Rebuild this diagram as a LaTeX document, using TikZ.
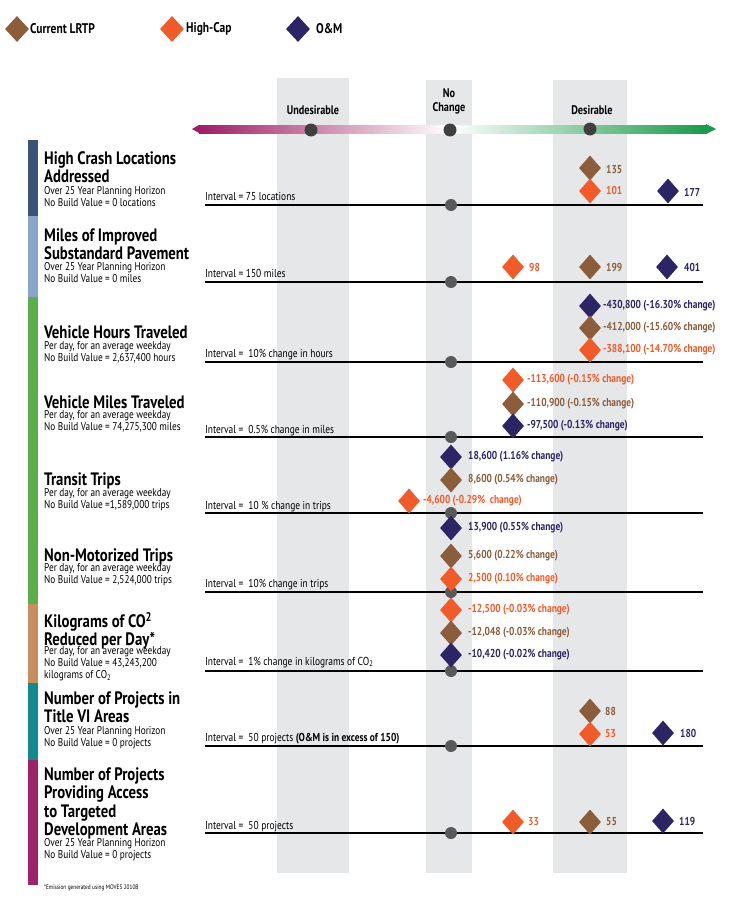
\documentclass[tikz,border=0pt]{standalone}
\usepackage{fontspec}
\setmainfont{PT Sans}[FakeStretch=0.82]
\usetikzlibrary{shapes.geometric}
\definecolor{cbr}{HTML}{8B5D3B}
\definecolor{cor}{HTML}{F15A29}
\definecolor{cnv}{HTML}{2B2566}
\definecolor{cmag}{HTML}{9E1F63}
\definecolor{cgrn}{HTML}{1A9A4A}
\definecolor{colbg}{HTML}{E6E7E8}
\definecolor{bar1}{HTML}{3A5478}
\definecolor{bar2}{HTML}{88A6CC}
\definecolor{bar3}{HTML}{5BAE4A}
\definecolor{bar4}{HTML}{C98E5E}
\definecolor{bar5}{HTML}{138A8E}
\definecolor{bar6}{HTML}{A0226A}
\tikzset{x=1pt,y=-1pt,
 dm/.style={diamond,minimum width=22pt,minimum height=25pt,inner sep=0pt,fill=#1},
 lab/.style={anchor=west,font=\bfseries\fontsize{11.5}{12}\selectfont,text=#1,inner sep=0pt},
 ttl/.style={anchor=north west,align=left,font=\bfseries\fontsize{18}{18.5}\selectfont,inner sep=0pt},
 sub/.style={anchor=north west,align=left,font=\fontsize{11.3}{12}\selectfont,inner sep=0pt},
 intv/.style={anchor=base west,font=\fontsize{11.5}{12}\selectfont,inner sep=0pt},
 zero/.style={circle,fill=black!65,minimum size=12pt,inner sep=0pt},
 rl/.style={line width=1.8pt},
 hd/.style={font=\bfseries\fontsize{12.5}{14}\selectfont,align=center,inner sep=0pt},
 leg/.style={anchor=west,font=\bfseries\fontsize{14}{16}\selectfont,inner sep=0pt}}
\begin{document}
\begin{tikzpicture}
\useasboundingbox (0,0) rectangle (738,907);
% columns
\fill[colbg] (277,78) rectangle (349,873);
\fill[colbg] (426,80) rectangle (472,873);
\fill[colbg] (553,80) rectangle (627,873);
% legend
\node[dm=cbr,minimum width=24pt,minimum height=26pt] (l1) at (17,29) {};
\node[leg] (l1t) at (30,29) {Current LRTP};
\node[dm=cor,minimum width=24pt,minimum height=26pt] (l2) at (172,29) {};
\node[leg] (l2t) at (186,29) {High-Cap};
\node[dm=cnv,minimum width=24pt,minimum height=26pt] (l3) at (298,29) {};
\node[leg] (l3t) at (316,29) {O\&M};
% gradient arrow
\shade[left color=cmag,right color=white] (199,125) rectangle (450,133);
\shade[left color=white,right color=cgrn] (450,125) rectangle (706,133);
\fill[cmag] (199,125) -- (192,129) -- (199,133) -- cycle;
\fill[cgrn] (706,124) -- (716,129) -- (706,134) -- cycle;
\node[circle,fill=black!75,minimum size=13pt,inner sep=0pt] (d1) at (311,130) {};
\node[circle,fill=black!75,minimum size=13pt,inner sep=0pt] (d2) at (450,130) {};
\node[circle,fill=black!75,minimum size=13pt,inner sep=0pt] (d3) at (590,129) {};
\node[hd] (u) at (313,110) {Undesirable};
\node[hd] (nc) at (449,101) {No\\Change};
\node[hd] (ds) at (592,110) {Desirable};
% left bars
\fill[bar1] (28,140) rectangle (38,216);
\fill[bar2] (28,216) rectangle (38,297);
\fill[bar3] (28,297) rectangle (38,604);
\fill[bar4] (28,604) rectangle (38,683);
\fill[bar5] (28,683) rectangle (38,760);
\fill[bar6] (28,760) rectangle (38,885);
% row lines and zero dots
\foreach \y/\n in {205/1,282/2,362/3,437/4,513/5,592/6,671/7,746/8,833/9}{
 \coordinate (a\n) at (205,\y); \coordinate (b\n) at (703,\y);
 \draw[rl] (a\n) -- (b\n);
 \node[zero] (z\n) at (451,\y) {};
}
% titles
\node[ttl] (t1) at (44,151) {High Crash Locations\\Addressed};
\node[sub] (s1) at (44,186) {Over 25 Year Planning Horizon\\No Build Value = 0 locations};
\node[ttl] (t2) at (44,228) {Miles of Improved\\Substandard Pavement};
\node[sub] (s2) at (44,262) {Over 25 Year Planning Horizon\\No Build Value = 0 miles};
\node[ttl] (t3) at (44,325) {Vehicle Hours Traveled};
\node[sub] (s3) at (44,341) {Per day, for an average weekday\\No Build Value = 2,637,400 hours};
\node[ttl] (t4) at (44,395) {Vehicle Miles Traveled};
\node[sub] (s4) at (44,410) {Per day, for an average weekday\\No Build Value = 74,275,300 miles};
\node[ttl] (t5) at (44,472) {Transit Trips};
\node[sub] (s5) at (44,488) {Per day, for an average weekday\\No Build Value =1,589,000 trips};
\node[ttl] (t6) at (44,548) {Non-Motorized Trips};
\node[sub] (s6) at (44,563) {Per day, for an average weekday\\No Build Value = 2,524,000 trips};
\node[ttl] (t7) at (44,612) {Kilograms of CO\textsuperscript{2}\\Reduced per Day*};
\node[sub] (s7) at (44,646) {Per day, for an average weekday\\No Build Value = 43,243,200\\kilograms of CO\textsubscript{2}};
\node[ttl] (t8) at (44,691) {Number of Projects in\\Title VI Areas};
\node[sub] (s8) at (44,726) {Over 25 Year Planning Horizon\\No Build Value = 0 projects};
\node[ttl] (t9) at (44,767) {Number of Projects\\Providing Access\\to Targeted\\Development Areas};
\node[sub] (s9) at (44,838) {Over 25 Year Planning Horizon\\No Build Value = 0 projects};
\node[anchor=west,font=\fontsize{6.5}{8}\selectfont,inner sep=0pt] (fn) at (44,888) {*Emission generated using MOVES 2010B};
% interval texts
\node[intv] (i1) at (205,200) {Interval = 75 locations};
\node[intv] (i2) at (205,277) {Interval = 150 miles};
\node[intv] (i3) at (205,357) {Interval =\ \ 10\% change in hours};
\node[intv] (i4) at (205,433) {Interval =\ \ 0.5\% change in miles};
\node[intv] (i5) at (205,509) {Interval =\ \ 10 \% change in trips};
\node[intv] (i6) at (205,587) {Interval =\ \ 10\% change in trips};
\node[intv] (i7) at (205,665) {Interval =\ \ 1\% change in kilograms of CO\textsubscript{2}};
\node[intv] (i8) at (205,741) {Interval =\ \ 50 projects \textbf{(O\&M is in excess of 150)}};
\node[intv] (i9) at (205,829) {Interval =\ \ 50 projects};
% row 1
\node[dm=cbr] (r1b) at (590,168) {}; \node[lab=cbr] (r1bl) at (606,169) {135};
\node[dm=cor] (r1o) at (590,191) {}; \node[lab=cor] (r1ol) at (606,190) {101};
\node[dm=cnv] (r1n) at (668,191) {}; \node[lab=cnv] (r1nl) at (684,192) {177};
% row 2
\node[dm=cor] (r2o) at (513,267) {}; \node[lab=cor] (r2ol) at (529,267) {98};
\node[dm=cbr] (r2b) at (590,267) {}; \node[lab=cbr] (r2bl) at (606,267) {199};
\node[dm=cnv] (r2n) at (667,267) {}; \node[lab=cnv] (r2nl) at (684,267) {401};
% row 3
\node[dm=cnv] (r3n) at (590,306) {}; \node[lab=cnv] (r3nl) at (603,306) {-430,800 (-16.30\% change)};
\node[dm=cbr] (r3b) at (590,328) {}; \node[lab=cbr] (r3bl) at (603,328) {-412,000 (-15.60\% change)};
\node[dm=cor] (r3o) at (590,350) {}; \node[lab=cor] (r3ol) at (603,350) {-388,100 (-14.70\% change)};
% row 4
\node[dm=cor] (r4o) at (513,380) {}; \node[lab=cor] (r4ol) at (527,380) {-113,600 (-0.15\% change)};
\node[dm=cbr] (r4b) at (513,404) {}; \node[lab=cbr] (r4bl) at (527,404) {-110,900 (-0.15\% change)};
\node[dm=cnv] (r4n) at (513,426) {}; \node[lab=cnv] (r4nl) at (527,426) {-97,500 (-0.13\% change)};
% row 5
\node[dm=cnv] (r5n) at (451,457) {}; \node[lab=cnv] (r5nl) at (468,457) {18,600 (1.16\% change)};
\node[dm=cbr] (r5b) at (451,480) {}; \node[lab=cbr] (r5bl) at (468,480) {8,600 (0.54\% change)};
\node[dm=cor] (r5o) at (409,501) {}; \node[lab=cor] (r5ol) at (423,501) {-4,600 (-0.29\%\ \ change)};
% row 6
\node[dm=cnv] (r6n) at (451,528) {}; \node[lab=cnv] (r6nl) at (468,528) {13,900 (0.55\% change)};
\node[dm=cbr] (r6b) at (451,556) {}; \node[lab=cbr] (r6bl) at (468,556) {5,600 (0.22\% change)};
\node[dm=cor] (r6o) at (451,579) {}; \node[lab=cor] (r6ol) at (468,579) {2,500 (0.10\% change)};
% row 7
\node[dm=cor] (r7o) at (451,610) {}; \node[lab=cor] (r7ol) at (468,610) {-12,500 (-0.03\% change)};
\node[dm=cbr] (r7b) at (451,633) {}; \node[lab=cbr] (r7bl) at (468,633) {-12,048 (-0.03\% change)};
\node[dm=cnv] (r7n) at (451,655) {}; \node[lab=cnv] (r7nl) at (468,655) {-10,420 (-0.02\% change)};
% row 8
\node[dm=cbr] (r8b) at (590,711) {}; \node[lab=cbr] (r8bl) at (605,711) {88};
\node[dm=cor] (r8o) at (590,734) {}; \node[lab=cor] (r8ol) at (605,734) {53};
\node[dm=cnv] (r8n) at (663,733) {}; \node[lab=cnv] (r8nl) at (680,733) {180};
% row 9
\node[dm=cor] (r9o) at (513,822) {}; \node[lab=cor] (r9ol) at (528,822) {33};
\node[dm=cbr] (r9b) at (590,822) {}; \node[lab=cbr] (r9bl) at (606,822) {55};
\node[dm=cnv] (r9n) at (663,821) {}; \node[lab=cnv] (r9nl) at (679,821) {119};
\end{tikzpicture}
\end{document}
